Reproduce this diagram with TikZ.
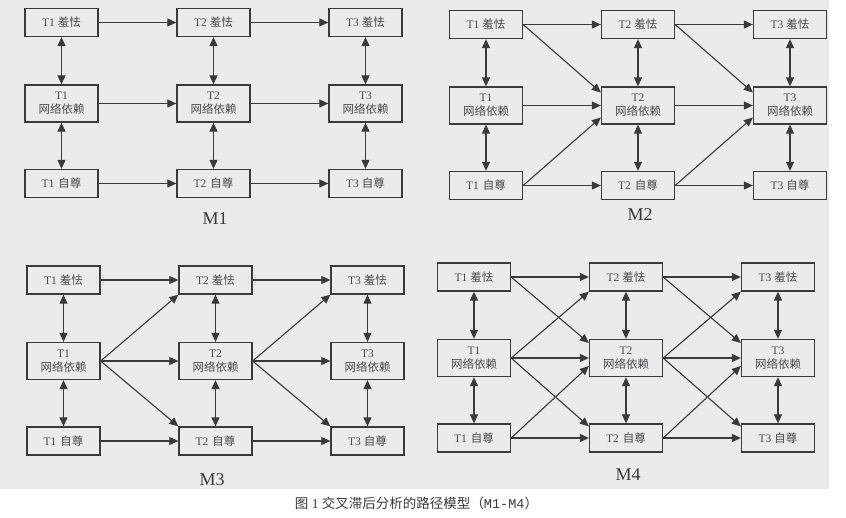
\documentclass[tikz,border=0pt]{standalone}
\usepackage{fontspec}
\setmainfont{Liberation Serif}
\newfontfamily\cjk{Noto Sans CJK SC}
\newfontfamily\monof{Liberation Mono}
\usetikzlibrary{arrows.meta}
\definecolor{bgc}{HTML}{EBEBED}
\definecolor{linec}{HTML}{3A3A3A}
\definecolor{textc}{HTML}{4A4A4A}
\tikzset{
  box/.style={draw=linec, line width=1.3pt, minimum width=73pt, minimum height=28pt,
    inner sep=0pt, align=center, text=textc, font=\fontsize{11.5}{14}\selectfont},
  bigbox/.style={box, minimum height=37pt},
  arr/.style={draw=linec, line width=1.1pt, -{Triangle[length=9pt,width=8pt]}},
  darr/.style={draw=linec, line width=1.1pt, {Triangle[length=9pt,width=8pt]}-{Triangle[length=9pt,width=8pt]}},
  plabel/.style={text=linec, font=\fontsize{18}{20}\selectfont}
}
\newcommand\drawpanel[3]{%
\begin{scope}[shift={(#1,#2)}]
\node[box] (#3a1) at (0,0) {T1 {\cjk 羞怯}};
\node[box] (#3b1) at (152,0) {T2 {\cjk 羞怯}};
\node[box] (#3c1) at (304,0) {T3 {\cjk 羞怯}};
\node[bigbox] (#3a2) at (0,81) {T1\\{\cjk 网络依赖}};
\node[bigbox] (#3b2) at (152,81) {T2\\{\cjk 网络依赖}};
\node[bigbox] (#3c2) at (304,81) {T3\\{\cjk 网络依赖}};
\node[box] (#3a3) at (0,161) {T1\hspace{4pt}{\cjk 自尊}};
\node[box] (#3b3) at (152,161) {T2\hspace{4pt}{\cjk 自尊}};
\node[box] (#3c3) at (304,161) {T3 {\cjk 自尊}};
\end{scope}
\draw[arr] (#3a1) -- (#3b1);
\draw[arr] (#3b1) -- (#3c1);
\draw[arr] (#3a2) -- (#3b2);
\draw[arr] (#3b2) -- (#3c2);
\draw[arr] (#3a3) -- (#3b3);
\draw[arr] (#3b3) -- (#3c3);
\draw[darr] (#3a1) -- (#3a2);
\draw[darr] (#3a2) -- (#3a3);
\draw[darr] (#3b1) -- (#3b2);
\draw[darr] (#3b2) -- (#3b3);
\draw[darr] (#3c1) -- (#3c2);
\draw[darr] (#3c2) -- (#3c3);
}
\begin{document}
\begin{tikzpicture}[x=1pt,y=-1pt]
\useasboundingbox (0,0) rectangle (846,517);
\fill[white] (0,0) rectangle (846,517);
\fill[bgc] (0,0) rectangle (829,489);
% panels
\drawpanel{61.5}{22.5}{p}
\drawpanel{486}{24.5}{q}
\drawpanel{63.5}{280}{r}
\drawpanel{474}{277}{s}
% M2 cross paths
\draw[arr] (qa1.east) -- ([yshift=13pt]qb2.west);
\draw[arr] (qa3.east) -- ([yshift=-12pt]qb2.west);
\draw[arr] (qb1.east) -- ([yshift=13pt]qc2.west);
\draw[arr] (qb3.east) -- ([yshift=-12pt]qc2.west);
% M3 cross paths
\draw[arr] (ra2.east) -- (rb1.south west);
\draw[arr] (ra2.east) -- (rb3.north west);
\draw[arr] (rb2.east) -- (rc1.south west);
\draw[arr] (rb2.east) -- (rc3.north west);
% M4 cross paths
\draw[arr] (sa1.east) -- ([yshift=15pt]sb2.west);
\draw[arr] (sa2.east) -- (sb1.south west);
\draw[arr] (sa2.east) -- ([yshift=-3pt]sb3.north west);
\draw[arr] (sa3.east) -- ([yshift=-8pt]sb2.west);
\draw[arr] (sb1.east) -- ([yshift=15pt]sc2.west);
\draw[arr] (sb2.east) -- (sc1.south west);
\draw[arr] (sb2.east) -- ([yshift=-3pt]sc3.north west);
\draw[arr] (sb3.east) -- ([yshift=-8pt]sc2.west);
% labels
\node[plabel] (l1) at (215,219) {M1};
\node[plabel] (l2) at (640,215) {M2};
\node[plabel] (l3) at (212,480) {M3};
\node[plabel] (l4) at (628,475) {M4};
\node[text=linec, font=\fontsize{13.5}{15}\selectfont] (cap) at (416.5,503)
  {{\cjk 图} 1 {\cjk 交叉滞后分析的路径模型（}{\monof M1-M4}{\cjk ）}};
\end{tikzpicture}
\end{document}
